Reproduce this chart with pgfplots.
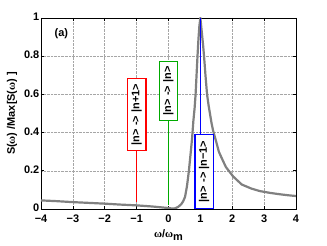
\documentclass[border=0pt]{standalone}
\usepackage{pgfplots}
\pgfplotsset{compat=1.18}
\usepackage{fontspec}
\setmainfont{Liberation Sans}
\newfontfamily\symf{Liberation Serif}
\definecolor{mgreen}{RGB}{0,170,0}
\definecolor{mgray}{RGB}{128,128,128}
\begin{document}
\begin{tikzpicture}
\useasboundingbox (-41bp,-37bp) rectangle (286bp,209bp);
\begin{axis}[
  at={(0,0)}, anchor=south west,
  scale only axis, width=255bp, height=191bp,
  xmin=-4, xmax=4, ymin=0, ymax=1,
  xtick={-4,-3,-2,-1,0,1,2,3,4},
  xticklabels={−4,−3,−2,−1,0,1,2,3,4},
  ytick={0,0.2,0.4,0.6,0.8,1},
  yticklabels={0,0.2,0.4,0.6,0.8,1},
  tick align=inside, major tick length=3bp,
  grid=major,
  major grid style={densely dotted, color=black!35, line width=0.5bp},
  axis line style={black, line width=0.6bp},
  every tick/.style={black, line width=0.6bp},
  /pgf/number format/assume math mode=true,
  tick label style={font=\fontsize{11}{13}\selectfont\bfseries},
  yticklabel style={inner sep=1.5bp, yshift=1bp},
  xticklabel style={inner sep=1bp, yshift=-5bp},
  xlabel={\fontsize{11}{13}\selectfont\bfseries{\symf ω}/{\symf ω}\raisebox{-3bp}{m}},
  xlabel style={at={(axis description cs:0.5,-0.149)}, anchor=base},
  ylabel={\fontsize{11}{13}\selectfont\bfseries S({\symf ω}) /Max[S({\symf ω}) ]},
  ylabel style={at={(axis description cs:-0.114,0.5)}, anchor=center},
]
\addplot[mgray, line width=2.2bp] coordinates {
(-4,0.045) (-3.5,0.041) (-3,0.036) (-2.5,0.032) (-2,0.028) (-1.5,0.023)
(-1,0.019) (-0.5,0.013) (-0.25,0.009) (0,0.005) (0.14,0.002) (0.22,0.004)
(0.31,0.012) (0.4,0.025) (0.46,0.04) (0.52,0.064) (0.58,0.12) (0.64,0.2)
(0.7,0.3) (0.74,0.37) (0.78,0.46) (0.82,0.53) (0.85,0.6) (0.88,0.7)
(0.91,0.8) (0.94,0.89) (0.97,0.96) (1.0,1.0) (1.03,0.95) (1.06,0.90)
(1.09,0.85) (1.12,0.79) (1.16,0.70) (1.21,0.60) (1.26,0.54) (1.3,0.5)
(1.35,0.45) (1.4,0.41) (1.5,0.35) (1.58,0.30) (1.66,0.27) (1.8,0.22)
(2.03,0.17) (2.3,0.128) (2.6,0.107) (2.86,0.094) (3.2,0.084) (3.5,0.077)
(3.75,0.072) (4,0.068)
};
\addplot[red, line width=1bp] coordinates {(-1,0.035) (-1,0.5)};
\addplot[mgreen, line width=1bp] coordinates {(0,0.02) (0,0.6)};
\addplot[blue, line width=1bp] coordinates {(1,0) (1,1)};
\node[draw=red, fill=white, rotate=90, line width=1.3bp, inner xsep=4bp, inner ysep=2bp,
  minimum width=72bp, minimum height=18.5bp, font=\fontsize{11}{13}\selectfont\bfseries]
  at (axis cs:-1,0.495) {|n>\hspace{0.3em}->\hspace{0.3em}|n+1>};
\node[draw=mgreen, fill=white, rotate=90, line width=1.3bp, inner xsep=4bp, inner ysep=2bp,
  minimum width=59bp, minimum height=18.5bp, font=\fontsize{11}{13}\selectfont\bfseries]
  at (axis cs:0,0.619) {|n>\hspace{0.3em}->\hspace{0.3em}|n>};
\node[draw=blue, fill=white, rotate=90, line width=1.3bp, inner xsep=4bp, inner ysep=2bp,
  minimum width=74bp, minimum height=18.5bp, font=\fontsize{11}{13}\selectfont\bfseries]
  at (axis cs:1.12,0.197) {|n>\hspace{0.3em}->\hspace{0.3em}|n−1>};
\node[font=\fontsize{11}{13}\selectfont\bfseries] at (axis cs:-3.36,0.92) {(a)};
\end{axis}
\end{tikzpicture}
\end{document}
